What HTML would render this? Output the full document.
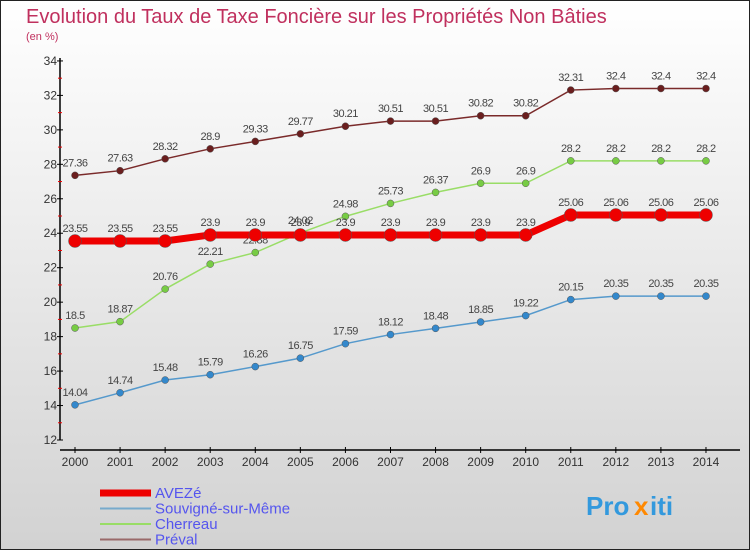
<!DOCTYPE html>
<html><head><meta charset="utf-8"><style>
body{margin:0}
svg{display:block;font-family:"Liberation Sans","DejaVu Sans",sans-serif}
</style></head><body>
<svg id="chart" width="750" height="550" xmlns="http://www.w3.org/2000/svg">
<defs><linearGradient id="bg" x1="0" y1="0" x2="0" y2="1"><stop offset="0" stop-color="#ffffff"/><stop offset="1" stop-color="#d2d2d2"/></linearGradient></defs>
<rect x="0.5" y="0.5" width="749" height="549" fill="url(#bg)" stroke="#222"/>
<text x="26" y="23" font-size="20" fill="#c0305e">Evolution du Taux de Taxe Foncière sur les Propriétés Non Bâties</text>
<text x="26" y="40" font-size="11" fill="#c0305e">(en %)</text>
<g id="axes"></g><g id="series"></g><g id="legend"></g>
<g font-size="26" font-weight="bold">
<text x="586" y="515" fill="#3399dd">Pro</text><text x="634" y="515" fill="#ff8800">x</text><text x="650" y="515" fill="#3399dd">iti</text>
</g>
</svg>
<script>
const years=[2000,2001,2002,2003,2004,2005,2006,2007,2008,2009,2010,2011,2012,2013,2014];
const yTicks=[12,14,16,18,20,22,24,26,28,30,32,34];
const avezeValues=[23.55,23.55,23.55,23.9,23.9,23.9,23.9,23.9,23.9,23.9,23.9,25.06,25.06,25.06,25.06];
const souvigneValues=[14.04,14.74,15.48,15.79,16.26,16.75,17.59,18.12,18.48,18.85,19.22,20.15,20.35,20.35,20.35];
const cherreauValues=[18.5,18.87,20.76,22.21,22.88,24.02,24.98,25.73,26.37,26.9,26.9,28.2,28.2,28.2,28.2];
const prevalValues=[27.36,27.63,28.32,28.9,29.33,29.77,30.21,30.51,30.51,30.82,30.82,32.31,32.4,32.4,32.4];
const NS="http://www.w3.org/2000/svg";
const X=i=>75+i*45.07;
const Y=v=>440-(v-12)*17.23;
function mk(p,t,a){const e=document.createElementNS(NS,t);for(const k in a)e.setAttribute(k,a[k]);p.appendChild(e);return e;}
const ax=document.getElementById('axes');
const yl=mk(ax,'line',{x1:60,y1:58,x2:60,y2:440,stroke:'#000','stroke-width':1.5});


yTicks.forEach((t,i)=>{
 mk(ax,'line',{x1:57,y1:Y(t),x2:63,y2:Y(t),stroke:'#000'});
 if(i<yTicks.length-1) mk(ax,'line',{x1:58,y1:Y(t+1),x2:62,y2:Y(t+1),stroke:'#e00'});
 const tx=mk(ax,'text',{x:57,y:Y(t)+4,'text-anchor':'end','font-size':12,fill:'#333'});
 tx.textContent=t;
 
 
});
const xl=mk(ax,'line',{x1:60,y1:450,x2:740,y2:450,stroke:'#000','stroke-width':1.5});


years.forEach((y,i)=>{
 mk(ax,'line',{x1:X(i),y1:447,x2:X(i),y2:453,stroke:'#000'});
 const tx=mk(ax,'text',{x:X(i),y:466,'text-anchor':'middle','font-size':12,fill:'#333'});
 tx.textContent=y;
 
 
});
const sg=document.getElementById('series');
const series=[
 {name:'preval',vals:prevalValues,c:'#7a2a2a',dot:'#6a1e1e',w:1.5,r:3.5},
 {name:'cherreau',vals:cherreauValues,c:'#99dd66',dot:'#77cc44',w:1.5,r:3.5},
 {name:'souvigne',vals:souvigneValues,c:'#5599cc',dot:'#3388cc',w:1.5,r:3.5},
 {name:'aveze',vals:avezeValues,c:'#ee0000',dot:'#ee0000',w:7,r:6.5}
];
series.forEach(s=>{
 const g=mk(sg,'g',{});
 
 
 const pl=mk(g,'polyline',{points:s.vals.map((v,i)=>X(i)+','+Y(v)).join(' '),fill:'none',stroke:s.c,'stroke-width':s.w});
 
 
 s.vals.forEach((v,i)=>{
  const c=mk(g,'circle',{cx:X(i),cy:Y(v),r:s.r,fill:s.dot,stroke:'#555','stroke-width':0.5});
  
  
  const t=mk(g,'text',{x:X(i),y:Y(v)-9,'text-anchor':'middle','font-size':11,fill:'#444','letter-spacing':'-0.5'});
  t.textContent=v;
  
  
 });
});
const lg=document.getElementById('legend');
const items=[['AVEZé','#ee0000',7],['Souvigné-sur-Même','#77aacc',2],['Cherreau','#99dd66',2],['Préval','#9a6a6a',2]];
items.forEach((it,i)=>{
 const y=493+i*15.5;
 const l=mk(lg,'line',{x1:100,y1:y,x2:151,y2:y,stroke:it[1],'stroke-width':it[2]});
 
 
 const t=mk(lg,'text',{x:155,y:y+5,'font-size':15,fill:'#5555ee'});
 t.textContent=it[0];
 
 
});
</script>
</body></html>
